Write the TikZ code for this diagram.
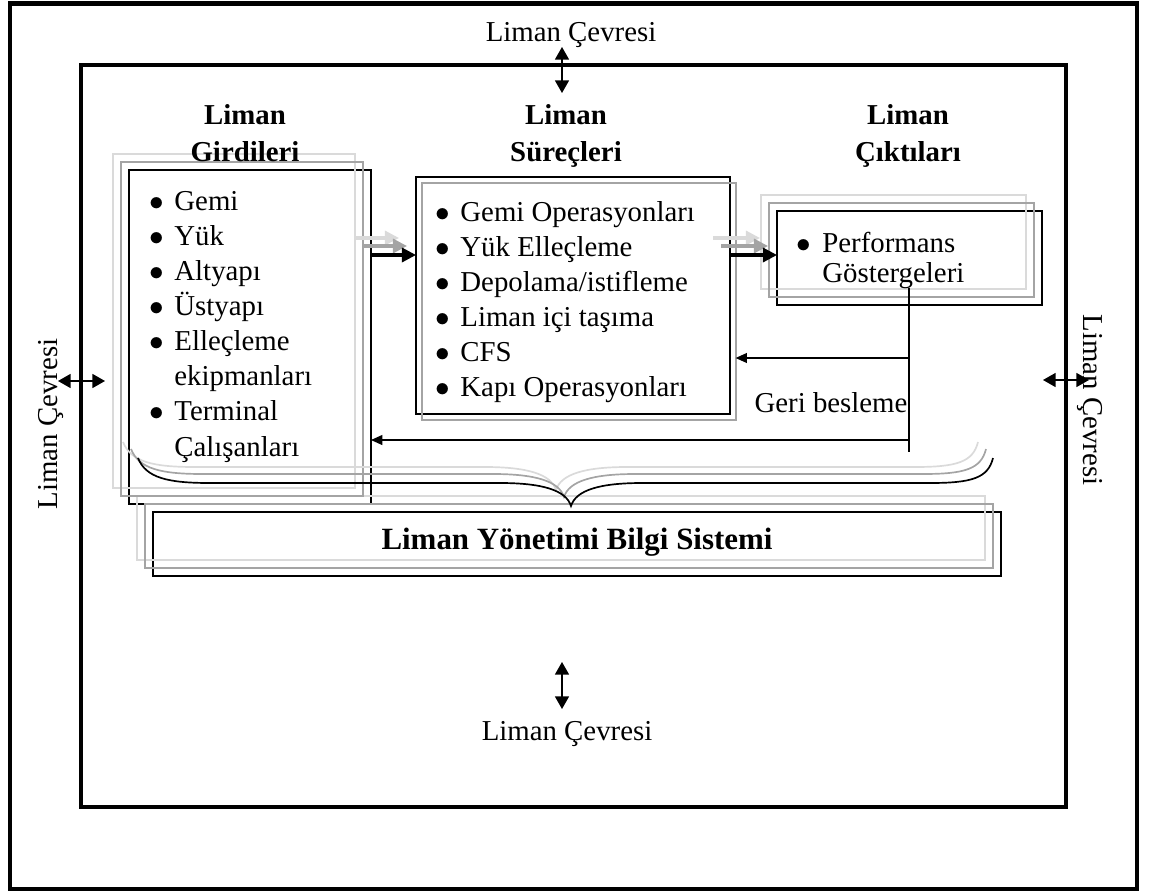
\documentclass[tikz,border=0pt]{standalone}
\usepackage{fontspec}
\setmainfont{Liberation Serif}
\usetikzlibrary{arrows.meta,fit}
\definecolor{ink}{HTML}{000000}
\definecolor{shade}{HTML}{A4A4A4}
\definecolor{faint}{HTML}{DADADA}
\newcommand\txt{\fontsize{20.5}{25}\selectfont}
\newcommand\hdtxt{\fontsize{20.5}{27}\selectfont\bfseries}
\newcommand\blt{$\bullet$}
\tikzset{
  frame/.style={draw=ink, line width=3.5pt},
  inner/.style={draw=ink, line width=2.8pt},
  box/.style={draw=ink, line width=1.1pt, inner sep=0pt, outer sep=0pt},
  ghost/.style={line width=1.1pt},
  flow/.style={draw=ink, line width=2.2pt, -{Triangle[length=10pt,width=10pt]}},
  ghostflow/.style={line width=2.2pt, -{Triangle[length=10pt,width=10pt]}},
  fback/.style={draw=ink, line width=0.9pt, -{Triangle[length=8pt,width=7pt]}},
  dbl/.style={draw=ink, line width=1pt,
    {Triangle[length=9pt,width=10pt]}-{Triangle[length=9pt,width=10pt]}},
  lbl/.style={font=\txt, inner sep=0pt},
  head/.style={font=\hdtxt, inner sep=0pt},
  item/.style={font=\txt, inner sep=0pt}
}

\begin{document}
\begin{tikzpicture}[x=0.025cm, y=-0.025cm]
  \useasboundingbox (0,0) rectangle (1149,895);
  % frames
  \draw[frame] (10,3.5) rectangle (1137,889);
  \draw[inner] (81,65) rectangle (1066,807);

  % surroundings
  \node[lbl, anchor=base] (envT) at (571,41) {Liman Çevresi};
  \node[lbl, anchor=base] (envB) at (567,740) {Liman Çevresi};
  \node[lbl, anchor=base, rotate=90] (envL) at (57,424) {Liman Çevresi};
  \node[lbl, anchor=base, rotate=-90] (envR) at (1083,400) {Liman Çevresi};
  \coordinate (t1) at (562,47);  \coordinate (t2) at (562,93);
  \coordinate (b1) at (562,662); \coordinate (b2) at (562,709);
  \coordinate (l1) at (58,381);  \coordinate (l2) at (105,381);
  \coordinate (r1) at (1043,380); \coordinate (r2) at (1089,380);
  \draw[dbl] (t1) -- (t2);
  \draw[dbl] (b1) -- (b2);
  \draw[dbl] (l1) -- (l2);
  \draw[dbl] (r1) -- (r2);

  % boxes
  \node[box, fit={(129,170) (371,504)}] (inp) {};
  \node[box, fit={(416,177) (730,414)}] (proc) {};
  \node[box, fit={(777,211) (1042,305)}] (outp) {};
  \node[box, fit={(153,512) (1001,576)}] (pmis) {};

  % shadow outlines
  \foreach \dx/\dy/\c in {-16/-16/faint, -8/-8/shade} {
    \draw[ghost, draw=\c] ([shift={(\dx,\dy)}]inp.south west) rectangle ([shift={(\dx,\dy)}]inp.north east);
    \draw[ghost, draw=\c] ([shift={(\dx,\dy)}]outp.south west) rectangle ([shift={(\dx,\dy)}]outp.north east);
    \draw[ghost, draw=\c] ([shift={(\dx,\dy)}]pmis.south west) rectangle ([shift={(\dx,\dy)}]pmis.north east);
  }
  \draw[ghost, draw=shade] ([shift={(6,6)}]proc.south west) rectangle ([shift={(6,6)}]proc.north east);

  % headings
  \node[head, anchor=base] (hin) at (245,124) {\begin{tabular}[t]{@{}c@{}}Liman\\Girdileri\end{tabular}};
  \node[head, anchor=base] (hpr) at (566,124) {\begin{tabular}[t]{@{}c@{}}Liman\\Süreçleri\end{tabular}};
  \node[head, anchor=base] (hout) at (908,124) {\begin{tabular}[t]{@{}c@{}}Liman\\Çıktıları\end{tabular}};

  % lists
  \node[item, anchor=base west] (lin) at (149,210) {\begin{tabular}[t]{@{}l@{\hspace{7.5pt}}l@{}}
    \blt & Gemi\\
    \blt & Yük\\
    \blt & Altyapı\\
    \blt & Üstyapı\\
    \blt & Elleçleme\\
         & ekipmanları\\
    \blt & Terminal\\
         & Çalışanları
  \end{tabular}};
  \node[item, anchor=base west] (lpr) at (435,221) {\begin{tabular}[t]{@{}l@{\hspace{7.5pt}}l@{}}
    \blt & Gemi Operasyonları\\
    \blt & Yük Elleçleme\\
    \blt & Depolama/istifleme\\
    \blt & Liman içi taşıma\\
    \blt & CFS\\
    \blt & Kapı Operasyonları
  \end{tabular}};
  \node[item, anchor=base west, font=\fontsize{20.5}{22}\selectfont] (lout) at (796,252) {\begin{tabular}[t]{@{}l@{\hspace{8.2pt}}l@{}}
    \blt & Performans\\
         & Göstergeleri
  \end{tabular}};
  \node[inner sep=0pt, font=\fontsize{22}{26}\selectfont\bfseries] (tpmis) at ([yshift=1]pmis.center) {Liman Yönetimi Bilgi Sistemi};

  % flow arrows with their shadows
  \coordinate (f1) at (371,255);
  \coordinate (f2) at (730,255);
  \foreach \d/\c in {-17/faint, -9/shade} {
    \draw[ghostflow, draw=\c, fill=\c] ([shift={(\d,\d)}]f1) -- ([shift={(\d,\d)}]f1 -| proc.west);
    \draw[ghostflow, draw=\c, fill=\c] ([shift={(\d,\d)}]f2) -- ([shift={(\d,\d)}]f2 -| outp.west);
  }
  \draw[flow] (f1) -- (f1 -| proc.west);
  \draw[flow] (f2) -- (f2 -| outp.west);

  % feedback
  \coordinate (g0) at (909,288);
  \coordinate (g1) at (909,452);
  \coordinate (g2) at (909,358);
  \coordinate (g3) at (909,440);
  \draw[ink, line width=0.9pt] (g0) -- (g1);
  \draw[fback] (g2) -- ([xshift=4]g2 -| proc.east);
  \draw[fback] (g3) -- (g3 -| inp.east);
  \node[lbl, anchor=base] (gb) at (831,412) {Geri besleme};

  % brace
  \foreach \dx/\dy/\c in {-15/-16/faint, -7/-9/shade, 0/0/ink} {
    \draw[draw=\c, line width=1.2pt, shift={(\dx,\dy)}]
      (138,458) .. controls (146,478) and (168,483) .. (210,483) -- (500,483)
      .. controls (542,483) and (566,490) .. (571,506)
      .. controls (576,490) and (600,483) .. (642,483) -- (930,483)
      .. controls (972,483) and (988,478) .. (993,458);
  }
\end{tikzpicture}
\end{document}
